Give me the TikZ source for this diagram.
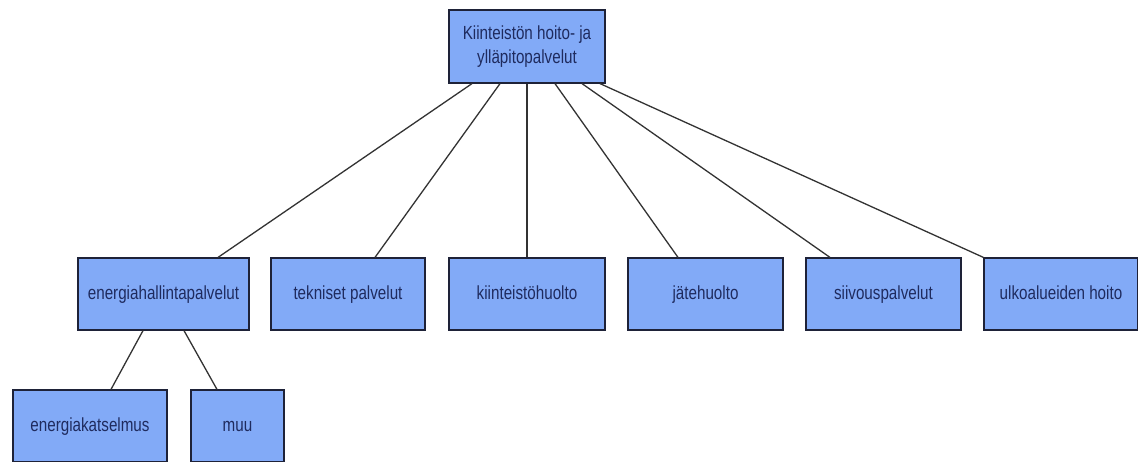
\documentclass[tikz,border=0pt]{standalone}
\usepackage{fontspec}
\newfontfamily\boxfont{Liberation Sans}[FakeStretch=0.8]
\definecolor{boxblue}{HTML}{82AAF7}
\definecolor{boxedge}{HTML}{1E2238}
\definecolor{boxtext}{HTML}{1F2B5E}
\definecolor{linkgray}{HTML}{333333}
\tikzset{
  orgbox/.style={draw=boxedge, fill=boxblue, line width=1.2pt, text=boxtext,
    minimum height=72pt, inner sep=0pt, align=center,
    text height=14pt, text depth=4pt,
    font=\boxfont\fontsize{19}{24}\selectfont},
  link/.style={draw=linkgray, line width=1.3pt}
}
\begin{document}
\begin{tikzpicture}[x=1pt,y=-1pt]
\fill[white] (0,0) rectangle (1138,461);
\useasboundingbox (0,0) rectangle (1138,461);
%\draw[step=50,gray,very thin] (0,0) grid (1138,461);
\node[orgbox, minimum width=156pt, minimum height=73pt, text height=, text depth=] (top) at (527,46.5) {Kiinteistön hoito- ja\\ylläpitopalvelut};
\node[orgbox, minimum width=171pt] (energia) at (163.5,294) {energiahallintapalvelut};
\node[orgbox, minimum width=154pt] (tekniset) at (348,294) {tekniset palvelut};
\node[orgbox, minimum width=156pt] (kiinteisto) at (527,294) {kiinteistöhuolto};
\node[orgbox, minimum width=155pt] (jate) at (705.5,294) {jätehuolto};
\node[orgbox, minimum width=155pt] (siivous) at (883.5,294) {siivouspalvelut};
\node[orgbox, minimum width=154pt] (ulko) at (1061,294) {ulkoalueiden hoito};
\node[orgbox, minimum width=154pt] (katselmus) at (90,426) {energiakatselmus};
\node[orgbox, minimum width=93pt] (muu) at (237.5,426) {muu};

%------------------------------------------------

\draw[link] ([xshift=-55]top.south) -- ([xshift=54.5]energia.north);
\draw[link] ([xshift=-27]top.south) -- ([xshift=27]tekniset.north);
\draw[link] (top.south) -- (kiinteisto.north);
\draw[link] ([xshift=28]top.south) -- ([xshift=-27.5]jate.north);
\draw[link] ([xshift=55]top.south) -- ([xshift=-53.5]siivous.north);
\draw[link] ([xshift=73]top.south) -- (ulko.north west);
\draw[link] ([xshift=-20.5]energia.south) -- ([xshift=21]katselmus.north);
\draw[link] ([xshift=20.5]energia.south) -- ([xshift=-20.5]muu.north);
\end{tikzpicture}
\end{document}
